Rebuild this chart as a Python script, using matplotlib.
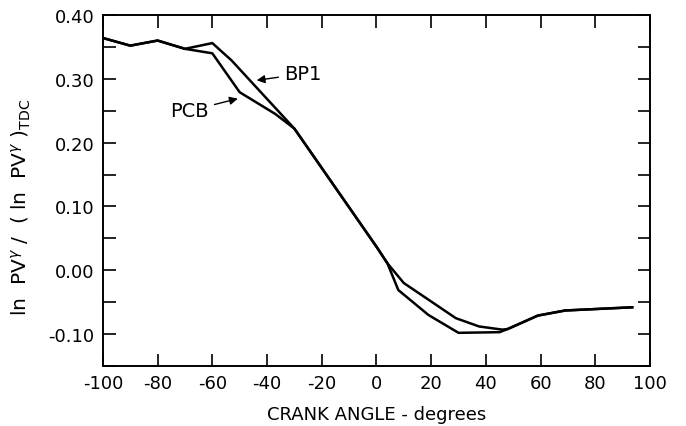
import numpy as np
import matplotlib.pyplot as plt

plt.rcParams['font.family'] = 'DejaVu Sans'
plt.rcParams['axes.unicode_minus'] = False

# krank açısı (derece) ve normalize edilmiş ln PV^gamma değerleri
bp1_x = [-100, -90, -80, -70, -60, -53, -30, 0, 4, 10, 19, 29, 37.5, 46, 48, 59, 69, 93.5]
bp1_y = [0.364, 0.352, 0.360, 0.347, 0.356, 0.329, 0.222, 0.037, 0.011,
         -0.020, -0.046, -0.075, -0.088, -0.093, -0.092, -0.071, -0.063, -0.058]

pcb_x = [-100, -90, -80, -70, -60, -50, -37, -30, 0, 4, 8, 19, 30, 45, 48, 59, 69, 93.5]
pcb_y = [0.364, 0.352, 0.360, 0.347, 0.340, 0.279, 0.245, 0.222, 0.037, 0.011,
         -0.031, -0.070, -0.098, -0.097, -0.092, -0.071, -0.063, -0.058]

x_ticks = np.arange(-100, 101, 20)
y_ticks = [-0.10, 0.00, 0.10, 0.20, 0.30, 0.40]
y_minor = np.arange(-0.15, 0.401, 0.05)

fig = plt.figure(figsize=(6.86, 4.27), dpi=100)
ax = fig.add_axes([0.150, 0.1405, 0.7975, 0.822])

# eğrileri çiz
ax.plot(bp1_x, bp1_y, color='black', linewidth=1.8)
ax.plot(pcb_x, pcb_y, color='black', linewidth=1.8)

ax.set_xlim(-100, 100)
ax.set_ylim(-0.148, 0.40)

# eksen çizgileri ve içe dönük tikler
for s in ax.spines.values():
    s.set_linewidth(1.4)
ax.set_xticks(x_ticks)
ax.set_xticklabels([str(v) for v in x_ticks])
ax.set_yticks(y_ticks)
ax.set_yticklabels(['%.2f' % v for v in y_ticks])
ax.set_yticks(y_minor, minor=True)
ax.tick_params(axis='both', which='both', direction='in', top=True, right=True,
               width=1.2, labelsize=13, pad=6)
ax.tick_params(axis='both', which='major', length=9)
ax.tick_params(axis='y', which='minor', length=9)

# eğri etiketleri ve oklar
ax.annotate('BP1', xy=(-44.8, 0.297), xytext=(-33.8, 0.308), fontsize=14,
            va='center', ha='left',
            arrowprops=dict(arrowstyle='-|>', color='black', lw=1.0, mutation_scale=12))
ax.annotate('PCB', xy=(-49.7, 0.270), xytext=(-61.2, 0.250), fontsize=14,
            va='center', ha='right',
            arrowprops=dict(arrowstyle='-|>', color='black', lw=1.0, mutation_scale=12))

ax.set_xlabel('CRANK ANGLE - degrees', fontsize=13, labelpad=9)
ax.set_ylabel(r'ln  PV$^{\gamma}$ /  ( ln  PV$^{\gamma}$ )$_{\rm TDC}$', fontsize=14.5)
ax.yaxis.set_label_coords(-0.128, 0.455)

plt.savefig('out.png', dpi=100)
